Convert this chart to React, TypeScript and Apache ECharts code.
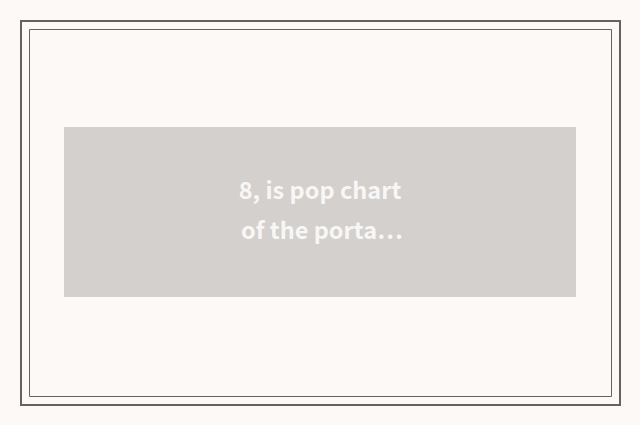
import { useEffect, useRef } from 'react';
import * as echarts from 'echarts';

// placeholder caption shown in the empty chart
const captionLines: string[] = ['8, is pop chart', 'of the porta…'];

export default function App() {
  const chartRef = useRef<HTMLDivElement>(null);

  useEffect(() => {
    if (!chartRef.current) return;
    const chart = echarts.init(chartRef.current, undefined, { renderer: 'svg' });

    const option = {
      animation: false,
      backgroundColor: '#fdf9f6',
      graphic: [
        {
          type: 'rect',
          shape: { x: 21, y: 21, width: 599, height: 384 },
          style: { fill: 'none', stroke: '#67625f', lineWidth: 2 },
        },
        {
          type: 'rect',
          shape: { x: 29.5, y: 29.5, width: 582, height: 367 },
          style: { fill: 'none', stroke: '#67625f', lineWidth: 1 },
        },
        {
          type: 'rect',
          shape: { x: 64, y: 127, width: 512, height: 170 },
          style: { fill: '#d3d0cd' },
        },
        ...captionLines.map((line, i) => ({
          type: 'text',
          x: 320 + i * 2,
          y: 189 + i * 40,
          style: {
            text: line,
            fill: '#f8f7f5',
            font: 'bold 23.5px "Noto Sans CJK SC", sans-serif',
            textAlign: 'center',
            textVerticalAlign: 'middle',
          },
        })),
      ],
    };

    chart.setOption(option);

    const handleResize = () => chart.resize();
    window.addEventListener('resize', handleResize);

    return () => {
      window.removeEventListener('resize', handleResize);
      chart.dispose();
    };
  }, []);

  return (
    <div
      ref={chartRef}
      style={{ position: 'fixed', left: 0, top: 0, width: 640, height: 425 }}
    />
  );
}
